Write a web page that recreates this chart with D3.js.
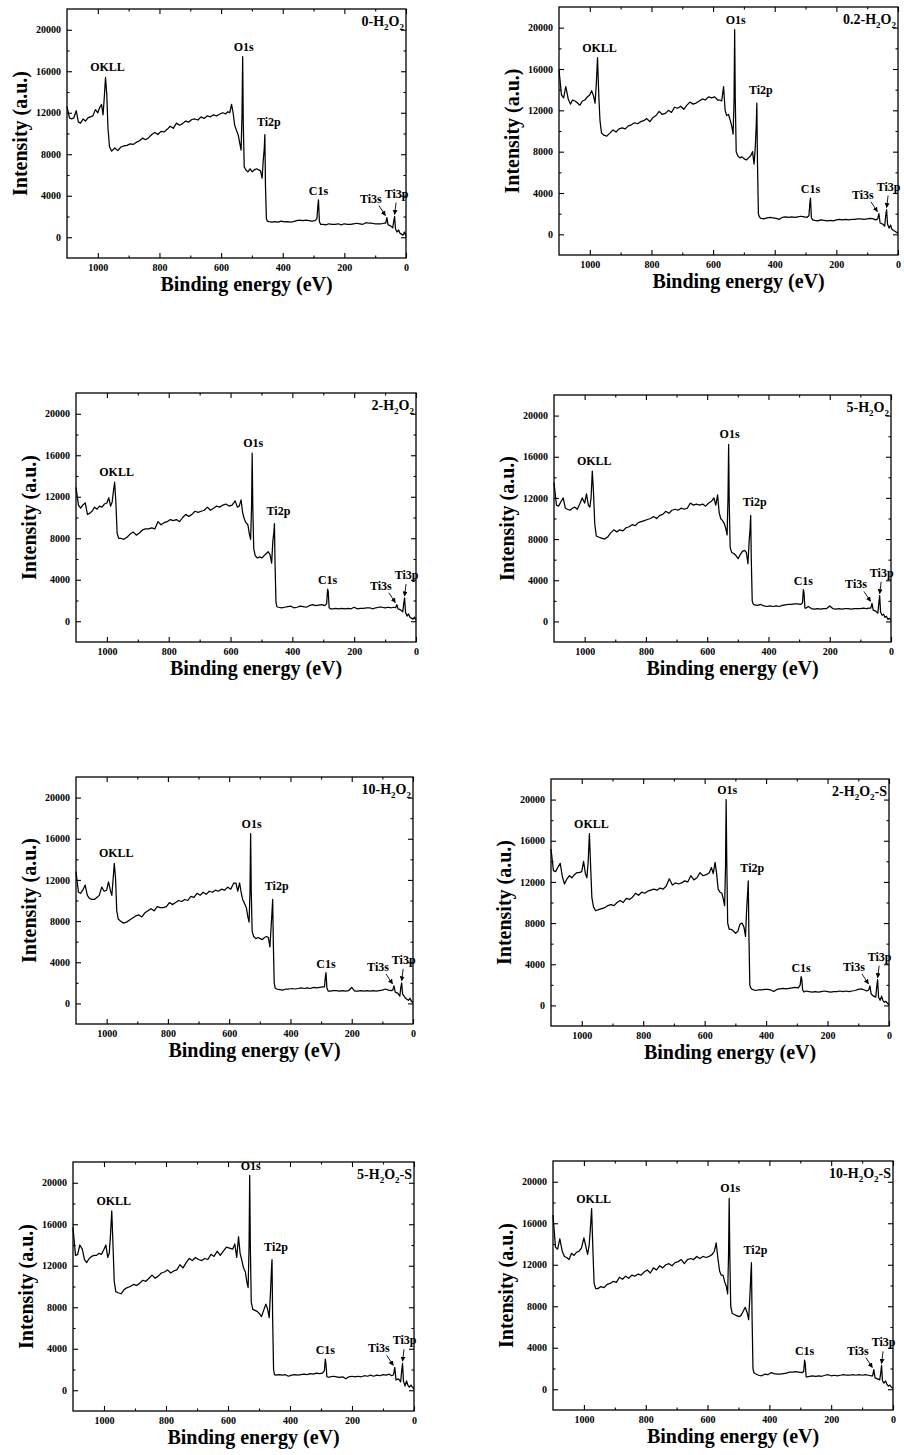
<!DOCTYPE html>
<html>
<head>
<meta charset="utf-8">
<script src="https://cdn.jsdelivr.net/npm/d3@7"></script>
<style>
  body { margin: 0; background: #fff; }
  svg text { font-family: "Liberation Serif", "Times New Roman", serif; font-weight: bold; fill: #000; }
</style>
</head>
<body>
<svg id="fig" width="904" height="1455"></svg>
<script>
// XPS survey spectra: binding energy (eV) on a shared grid, intensity (a.u.) per sample.
const energies = [
  1100,1092,1085,1078,1070,1063,1056,1048,1040,1032,1024,1016,1008,1000,994,988,983,
  979,975,971,967,962,
  955,945,935,925,915,905,895,885,875,865,855,845,835,825,815,805,795,785,775,765,755,745,735,725,715,705,695,685,675,665,655,645,635,625,615,605,595,585,
  578,572,566,561,556,550,544,539,535,
  532,530,528,525,
  520,513,506,499,492,485,478,472,467,463,
  460,458,456,453,450,
  445,435,425,415,405,395,385,375,365,355,345,335,325,315,305,295,
  289,286,284,281,277,
  270,260,250,240,230,220,210,200,190,180,170,160,150,140,130,120,110,100,90,80,72,
  66,62,58,
  50,43,40,37,34,
  29,24,20,15,10,5,0
];

const sampleNames = ["0-H2O2", "0.2-H2O2", "2-H2O2", "5-H2O2", "10-H2O2", "2-H2O2-S", "5-H2O2-S", "10-H2O2-S"];

const int0 = [
  12600,11500,11400,11500,12200,11100,11000,11400,11200,11500,11600,11700,12300,12000,12500,12800,11800,
  13500,15400,13800,10500,8700,
  8300,8600,8350,8700,8800,8850,9000,8950,9150,9300,9550,9400,9600,9900,10100,9900,10200,10150,10400,10700,10500,11000,10800,10950,11200,11100,11350,11400,11300,11600,11450,11700,11600,11800,11700,11850,12000,11900,
  12100,12000,12800,12000,10800,10300,9800,9000,8400,
  12000,17400,11000,6800,
  6500,6300,6600,6300,6500,6600,6500,6400,5700,7500,
  8500,9900,5000,1800,1550,
  1500,1450,1500,1450,1550,1480,1500,1450,1500,1600,1650,1600,1650,1600,1550,1600,
  1800,3000,3600,1500,1250,
  1250,1200,1300,1250,1250,1300,1200,1300,1250,1250,1300,1350,1300,1250,1400,1350,1350,1300,1300,1300,1350,
  1350,1900,1200,
  1100,900,1500,2000,800,
  500,700,400,300,200,500,100
];
const int1 = [
  15900,13500,13200,14300,13100,12600,13000,12900,12700,12500,12900,13000,13300,13500,13900,13400,12700,
  14500,17100,13500,11000,9800,
  9600,9500,9800,10100,9900,10200,10300,10200,10500,10600,10800,10700,10900,11000,11200,10900,11300,11500,11900,11600,11700,12000,11800,12300,12200,12400,12100,12500,12800,12600,12700,12900,13100,13000,13300,13200,13300,13000,
  13000,12900,14300,12000,11500,11600,11000,10400,9700,
  13000,19800,13000,8000,
  7600,7400,7500,7300,7200,7400,7600,8000,6800,8500,
  10500,12700,7000,2000,1700,
  1550,1500,1600,1650,1600,1550,1450,1650,1700,1650,1700,1650,1700,1750,1700,1650,
  1800,3000,3500,1600,1400,
  1350,1300,1400,1350,1300,1350,1300,1400,1450,1400,1450,1400,1450,1450,1500,1500,1450,1500,1550,1500,1400,
  1500,2000,1100,
  1000,800,1800,2400,1000,
  600,900,500,400,300,200,100
];
const int2 = [
  12900,11200,10900,11200,11400,10300,10400,10600,11000,10800,11100,11000,11300,11400,11900,11100,11500,
  12500,13400,11500,8500,8000,
  8000,7900,8100,8400,8600,8300,8500,8800,8900,8900,9000,8900,9600,9300,9500,9600,9800,9700,9800,9600,10000,10300,10100,10300,10600,10500,10600,10700,11000,10700,10900,11100,11000,11200,11300,11100,11200,11600,
  11000,11100,11700,10500,9900,9500,9300,8400,7900,
  11000,16200,11000,7000,
  6300,6100,6200,6100,6300,6500,6700,6400,5600,7800,
  8500,9400,5500,1800,1400,
  1350,1300,1350,1400,1450,1300,1350,1450,1400,1350,1500,1600,1500,1550,1600,1500,
  1700,3100,2900,1300,1200,
  1200,1250,1200,1250,1200,1250,1200,1350,1200,1250,1250,1300,1300,1200,1300,1350,1350,1300,1350,1300,1350,
  1300,1600,1200,
  1100,900,1600,2250,900,
  500,700,400,300,200,400,100
];
const int3 = [
  13500,11300,11200,11600,12000,11000,10900,10800,11000,11100,10900,11400,12000,11500,12400,11300,11100,
  12000,14600,12500,9500,8300,
  8200,8100,8000,8200,8600,8900,8700,8900,8800,9100,9200,9400,9300,9600,9700,9800,9900,10000,10200,10000,10300,10400,10700,10500,10800,10900,10800,11000,10900,11000,11500,11300,11400,11300,11400,11200,11500,11700,
  12000,11300,12300,10600,10000,9800,9500,9000,8400,
  12000,17200,11500,7200,
  6700,6600,6400,6100,6500,6800,6900,6700,5600,7800,
  9000,10300,6000,2000,1700,
  1600,1550,1650,1500,1450,1500,1450,1500,1450,1550,1600,1650,1650,1700,1700,1650,
  1800,3100,2800,1300,1300,
  1450,1250,1200,1250,1200,1250,1250,1500,1250,1200,1250,1200,1250,1250,1200,1250,1250,1250,1300,1250,1300,
  1300,1750,1100,
  1000,800,1700,2500,900,
  600,700,400,500,200,300,100
];
const int4 = [
  12800,10800,10700,11000,11500,10500,10200,10100,10100,10300,10500,11300,10900,11000,11800,11000,10500,
  12000,13600,12200,9000,8200,
  8000,7800,7900,8100,8300,8500,8600,8400,8800,9000,9200,9000,9400,9300,9300,9400,9800,9600,9800,10000,9900,10100,10000,10400,10300,10700,10500,10800,10600,10900,10800,11000,10900,11100,11000,11300,11100,11700,
  11700,10900,11700,10800,10100,9700,9300,8400,7900,
  11000,16500,11000,7000,
  6500,6300,6400,6300,6200,6400,6500,6400,5500,7500,
  9000,10100,6000,2000,1500,
  1400,1350,1300,1400,1400,1450,1400,1450,1500,1450,1500,1450,1550,1500,1550,1600,
  1600,2600,3000,1500,1200,
  1200,1250,1250,1200,1250,1200,1250,1550,1200,1200,1250,1200,1250,1200,1250,1200,1250,1300,1400,1300,1250,
  1300,1700,1100,
  1000,700,1500,2000,900,
  700,500,400,300,500,200,100
];
const int5 = [
  15200,13100,13000,13400,13800,12500,11800,12300,12600,12400,12700,12900,12900,13000,14000,12800,12400,
  14000,16700,13500,10500,9600,
  9200,9300,9400,9500,9700,9800,9700,10000,10200,10000,10400,10300,10500,10900,10700,11000,10900,11100,11200,11300,11200,11400,11300,11600,12300,11700,11900,11800,11900,12100,12000,12600,12200,12400,12900,12600,12700,12900,
  13400,12800,13900,12800,11300,11000,10900,10300,9700,
  13500,20000,14000,8000,
  7400,7400,7200,7000,7200,7900,8000,7600,6700,9500,
  11000,12100,7000,2000,1700,
  1550,1450,1500,1500,1550,1550,1500,1350,1550,1600,1650,1600,1650,1700,1750,1700,
  2000,2800,2600,1500,1300,
  1400,1350,1300,1350,1300,1350,1400,1350,1300,1350,1350,1400,1350,1400,1350,1400,1450,1550,1600,1500,1400,
  1500,1900,1100,
  900,800,1800,2500,800,
  500,900,500,300,400,200,100
];
const int6 = [
  15700,13000,13100,14000,13600,12600,12300,12700,12900,13000,13000,13200,13100,13600,14000,12800,13200,
  15000,17300,14000,10500,9500,
  9400,9300,9700,9900,10000,10200,10100,10300,10600,10500,10800,11100,10800,11000,11300,11400,11600,11300,11500,11600,12100,11800,12300,12700,12500,12800,12600,12500,12700,12600,13100,12900,13400,13000,13400,13800,13700,13600,
  14100,12800,14800,13200,12600,11800,11400,10400,9900,
  14000,20700,14000,8500,
  7800,7700,7600,7400,7100,7700,8300,7800,7000,9400,
  11500,12600,7000,2000,1500,
  1450,1500,1450,1500,1350,1450,1500,1450,1500,1550,1500,1600,1550,1650,1600,1650,
  1900,3000,2500,1300,1250,
  1300,1350,1300,1250,1300,1100,1300,1350,1300,1350,1300,1400,1350,1450,1350,1450,1400,1500,1450,1550,1400,
  1500,2200,1000,
  1100,800,1800,2600,900,
  400,900,500,300,500,300,100
];
const int7 = [
  16800,13700,13500,14500,13300,12800,12700,12500,13100,12900,13200,13300,13600,14600,13800,13000,13900,
  15500,17400,13500,10200,9700,
  9700,9900,9800,10100,10200,10400,10300,10800,10600,10900,10700,11000,10900,11100,11000,11300,11500,11200,11700,11500,11900,11700,12000,12100,11900,12200,12300,12500,12100,12500,12600,12500,12800,12600,12800,12700,12800,13000,
  13300,14100,12500,11400,11000,11000,10300,9900,9200,
  13000,18400,13000,8000,
  7300,7200,7100,7000,7100,7500,7900,7400,6700,9000,
  11000,12200,7000,2000,1600,
  1500,1350,1300,1450,1400,1600,1500,1450,1450,1500,1550,1650,1650,1700,1650,1600,
  1700,2800,2500,1200,1200,
  1250,1300,1250,1300,1250,1350,1400,1300,1350,1300,1350,1400,1350,1350,1400,1350,1400,1350,1400,1350,1300,
  1300,1900,1100,
  1000,900,1500,2300,800,
  600,800,500,300,400,200,100
];
const intensities = [int0, int1, int2, int3, int4, int5, int6, int7];

// Peak assignments (nominal binding energy, eV)
const peakNames = ["OKLL", "O1s", "Ti2p", "C1s", "Ti3s", "Ti3p"];
const peakEnergies = [975, 530, 458, 285, 62, 37];

// Axis ticks
const xMajorTicks = [1000, 800, 600, 400, 200, 0];
const xMinorTicks = [900, 700, 500, 300, 100];
const yMajorTicks = [0, 4000, 8000, 12000, 16000, 20000];
const yMinorTicks = [2000, 6000, 10000, 14000, 18000];

// ---- layout ----
const frames = [
  [67, 9, 406, 258],
  [559, 7, 898, 255],
  [76, 393, 416, 642],
  [554, 395, 891, 642],
  [76, 777, 413, 1024],
  [551, 779, 889, 1026],
  [73, 1162, 414, 1411],
  [553, 1161, 893, 1410]
];
const labelOffsets = {
  OKLL: { dx: 2, dy: -6 },
  O1s:  { dx: 1, dy: -6 },
  Ti2p: { dx: 4, dy: -9 },
  C1s:  { dx: 0, dy: -5 }
};

const svg = d3.select("#fig");
const defs = svg.append("defs");
defs.append("marker")
  .attr("id", "arrowhead")
  .attr("viewBox", "0 0 10 10")
  .attr("refX", 9).attr("refY", 5)
  .attr("markerWidth", 5).attr("markerHeight", 5)
  .attr("markerUnits", "userSpaceOnUse")
  .attr("orient", "auto")
  .append("path").attr("d", "M0,0L10,5L0,10Z").attr("fill", "#000");

sampleNames.forEach((name, i) => {
  const [x0, y0, x1, y1] = frames[i];
  const w = x1 - x0, h = y1 - y0;
  const g = svg.append("g").attr("transform", `translate(${x0},${y0})`);

  const x = d3.scaleLinear().domain([1100, 0]).range([0, w]);
  const y = d3.scaleLinear().domain([-2000, 22000]).range([h, 0]);

  const vals = intensities[i];
  const pts = energies.map((e, k) => [e, vals[k]]);

  // major and minor ticks on all four sides, pointing inwards
  const styleAxis = sel => {
    sel.select(".domain").remove();
    sel.selectAll(".tick line").attr("stroke", "#000").attr("stroke-width", 1.1);
    sel.selectAll(".tick text").attr("font-size", 10).attr("fill", "#000")
      .attr("font-family", "Liberation Serif, Times New Roman, serif").attr("font-weight", "bold");
  };
  g.append("g").attr("transform", `translate(0,${h})`)
    .call(d3.axisBottom(x).tickValues(xMajorTicks).tickSizeInner(-5).tickSizeOuter(0).tickPadding(6).tickFormat(d3.format("d")))
    .call(styleAxis);
  g.append("g").attr("transform", `translate(0,${h})`)
    .call(d3.axisBottom(x).tickValues(xMinorTicks).tickSizeInner(-2.5).tickSizeOuter(0).tickFormat(""))
    .call(styleAxis);
  g.append("g")
    .call(d3.axisLeft(y).tickValues(yMajorTicks).tickSizeInner(-5).tickSizeOuter(0).tickPadding(6).tickFormat(d3.format("d")))
    .call(styleAxis);
  g.append("g")
    .call(d3.axisLeft(y).tickValues(yMinorTicks).tickSizeInner(-2.5).tickSizeOuter(0).tickFormat(""))
    .call(styleAxis);
  g.append("g")
    .call(d3.axisTop(x).tickValues(xMajorTicks).tickSizeInner(-5).tickSizeOuter(0).tickFormat(""))
    .call(styleAxis);
  g.append("g")
    .call(d3.axisTop(x).tickValues(xMinorTicks).tickSizeInner(-2.5).tickSizeOuter(0).tickFormat(""))
    .call(styleAxis);
  g.append("g").attr("transform", `translate(${w},0)`)
    .call(d3.axisRight(y).tickValues(yMajorTicks).tickSizeInner(-5).tickSizeOuter(0).tickFormat(""))
    .call(styleAxis);
  g.append("g").attr("transform", `translate(${w},0)`)
    .call(d3.axisRight(y).tickValues(yMinorTicks).tickSizeInner(-2.5).tickSizeOuter(0).tickFormat(""))
    .call(styleAxis);

  // frame
  g.append("rect").attr("width", w).attr("height", h)
    .attr("fill", "none").attr("stroke", "#000").attr("stroke-width", 1.3);

  // spectrum
  const line = d3.line().x(d => x(d[0])).y(d => y(d[1]));
  g.append("path").datum(pts)
    .attr("d", line)
    .attr("fill", "none").attr("stroke", "#000")
    .attr("stroke-width", 1.25).attr("stroke-linejoin", "round");

  // peak labels, placed at the local maximum near each assignment
  peakNames.forEach((pn, j) => {
    const win = pts.filter(p => Math.abs(p[0] - peakEnergies[j]) <= 4);
    const top = win.reduce((a, b) => (b[1] > a[1] ? b : a));
    const px = x(top[0]), py = y(top[1]);
    if (pn === "Ti3s") {
      g.append("text").attr("x", px - 16).attr("y", py - 15)
        .attr("text-anchor", "middle").attr("font-size", 12).text(pn);
      g.append("line").attr("x1", px - 8).attr("y1", py - 12).attr("x2", px - 1.5).attr("y2", py - 2)
        .attr("stroke", "#000").attr("stroke-width", 0.9).attr("marker-end", "url(#arrowhead)");
    } else if (pn === "Ti3p") {
      g.append("text").attr("x", px + 2).attr("y", py - 19)
        .attr("text-anchor", "middle").attr("font-size", 12).text(pn);
      g.append("line").attr("x1", px + 1.5).attr("y1", py - 14).attr("x2", px).attr("y2", py - 2)
        .attr("stroke", "#000").attr("stroke-width", 0.9).attr("marker-end", "url(#arrowhead)");
    } else {
      const o = labelOffsets[pn];
      g.append("text").attr("x", px + o.dx).attr("y", py + o.dy)
        .attr("text-anchor", "middle").attr("font-size", 12).text(pn);
    }
  });

  // sample name with subscripts
  const parts = name.split(/(?<=[A-Z])(\d)/);
  const t = g.append("text").attr("x", w - 2).attr("y", 17)
    .attr("text-anchor", "end").attr("font-size", 14);
  parts.forEach((p, k) => {
    if (p === "") return;
    if (k % 2 === 1) {
      t.append("tspan").attr("font-size", 9).attr("dy", 3.5).text(p);
    } else {
      t.append("tspan").attr("dy", k === 0 ? 0 : -3.5).text(p);
    }
  });

  // axis titles
  g.append("text")
    .attr("transform", `translate(-40,${h / 2}) rotate(-90)`)
    .attr("text-anchor", "middle").attr("font-size", 20)
    .text("Intensity (a.u.)");
  g.append("text")
    .attr("x", w / 2 + 10).attr("y", h + 33)
    .attr("text-anchor", "middle").attr("font-size", 20)
    .text("Binding energy (eV)");
});
</script>
</body>
</html>
